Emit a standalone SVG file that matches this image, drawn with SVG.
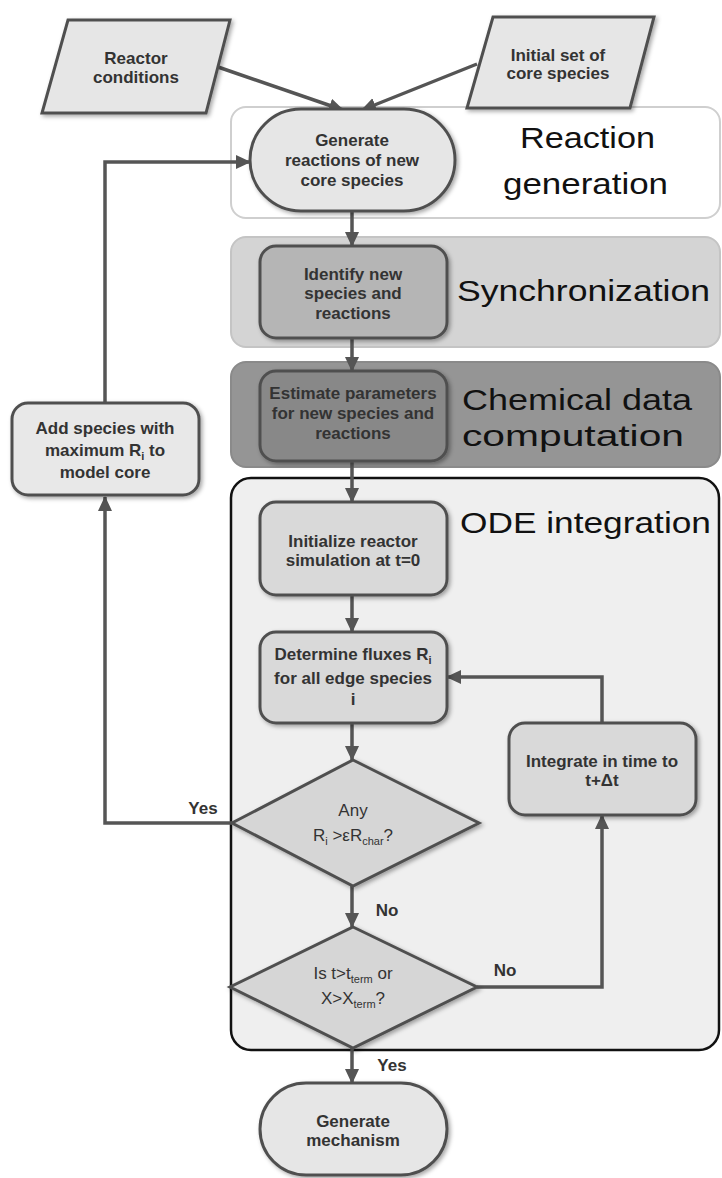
<svg xmlns="http://www.w3.org/2000/svg" width="722" height="1178" viewBox="0 0 722 1178">
<defs>
<style>
.lbl{font-family:"Liberation Sans",Arial,sans-serif;font-size:17px;font-weight:bold;fill:#333;text-anchor:middle}
.dlbl{font-family:"Liberation Sans",Arial,sans-serif;font-size:17px;fill:#333;text-anchor:middle}
.sub{font-size:11px}
.title{font-family:"Liberation Sans",Arial,sans-serif;font-size:30px;fill:#111}
.node{stroke:#505050;stroke-width:3;filter:url(#sh)}
.conn{fill:none;stroke:#555;stroke-width:3.5}
.elbl{font-family:"Liberation Sans",Arial,sans-serif;font-size:17px;font-weight:bold;fill:#333}
</style>
<filter id="sh" x="-10%" y="-10%" width="125%" height="125%">
<feDropShadow dx="2" dy="2" stdDeviation="2" flood-color="#000" flood-opacity="0.35"/>
</filter>
<marker id="ah" markerUnits="userSpaceOnUse" markerWidth="16" markerHeight="16" refX="14" refY="7" orient="auto">
<path d="M0,0 L15,7 L0,14 Z" fill="#555"/>
</marker>
</defs>

<g id="panels">
<rect id="panel-reaction" x="231" y="107" width="489" height="111" rx="15" fill="#fff" stroke="#cfcfcf" stroke-width="2"/>
<rect id="panel-sync" x="231" y="237" width="489" height="110" rx="15" fill="#d4d4d4" stroke="#c4c4c4" stroke-width="2"/>
<rect id="panel-chem" x="231" y="362" width="489" height="105" rx="15" fill="#959595" stroke="#8a8a8a" stroke-width="2"/>
<rect id="panel-ode" x="231" y="478" width="488" height="572" rx="20" fill="#efefef" stroke="#111" stroke-width="2.5"/>
<text class="title" x="520" y="148" textLength="135" lengthAdjust="spacingAndGlyphs">Reaction</text>
<text class="title" x="503" y="194" textLength="165" lengthAdjust="spacingAndGlyphs">generation</text>
<text class="title" x="457" y="301" textLength="253" lengthAdjust="spacingAndGlyphs">Synchronization</text>
<text class="title" x="462" y="410" textLength="230" lengthAdjust="spacingAndGlyphs">Chemical data</text>
<text class="title" x="462" y="446" textLength="222" lengthAdjust="spacingAndGlyphs">computation</text>
<text class="title" x="460" y="533" textLength="251" lengthAdjust="spacingAndGlyphs">ODE integration</text>
</g>

<g id="connectors">
<line class="conn" x1="218" y1="67" x2="343" y2="110" marker-end="url(#ah)"/>
<line class="conn" x1="477" y1="64" x2="362" y2="110" marker-end="url(#ah)"/>
<line class="conn" x1="352" y1="211" x2="352" y2="246" marker-end="url(#ah)"/>
<line class="conn" x1="352" y1="338" x2="352" y2="371" marker-end="url(#ah)"/>
<line class="conn" x1="352" y1="461" x2="352" y2="502" marker-end="url(#ah)"/>
<line class="conn" x1="352" y1="595" x2="352" y2="632" marker-end="url(#ah)"/>
<line class="conn" x1="352" y1="723" x2="352" y2="760" marker-end="url(#ah)"/>
<line class="conn" x1="352" y1="886" x2="352" y2="927" marker-end="url(#ah)"/>
<line class="conn" x1="352" y1="1048" x2="352" y2="1083" marker-end="url(#ah)"/>
<polyline class="conn" points="477,987 602,987 602,815" marker-end="url(#ah)"/>
<polyline class="conn" points="602,723 602,677 447,677" marker-end="url(#ah)"/>
<polyline class="conn" points="232,823 105,823 105,497" marker-end="url(#ah)"/>
<polyline class="conn" points="105,403 105,162 250,162" marker-end="url(#ah)"/>
<text class="elbl" x="203" y="814" text-anchor="middle">Yes</text>
<text class="elbl" x="387" y="916" text-anchor="middle">No</text>
<text class="elbl" x="505" y="976" text-anchor="middle">No</text>
<text class="elbl" x="392" y="1071" text-anchor="middle">Yes</text>
</g>

<g id="reactor-conditions">
<polygon class="node" points="68,20 230,20 206,113 42,113" fill="#e6e6e6"/>
<text class="lbl" x="136" y="64">Reactor</text>
<text class="lbl" x="136" y="83">conditions</text>
</g>

<g id="initial-set">
<polygon class="node" points="493,17 654,17 630,108 467,108" fill="#e6e6e6"/>
<text class="lbl" x="558" y="61">Initial set of</text>
<text class="lbl" x="558" y="79">core species</text>
</g>

<g id="generate-reactions">
<rect class="node" x="250" y="109" width="205" height="102" rx="51" fill="#e6e6e6"/>
<text class="lbl" x="352" y="146">Generate</text>
<text class="lbl" x="352" y="166">reactions of new</text>
<text class="lbl" x="352" y="186">core species</text>
</g>

<g id="identify">
<rect class="node" x="260" y="246" width="187" height="92" rx="16" fill="#b5b5b5"/>
<text class="lbl" x="353" y="280">Identify new</text>
<text class="lbl" x="353" y="299">species and</text>
<text class="lbl" x="353" y="319">reactions</text>
</g>

<g id="estimate">
<rect class="node" x="260" y="371" width="187" height="90" rx="16" fill="#888" stroke="#444"/>
<text class="lbl" x="353" y="399">Estimate parameters</text>
<text class="lbl" x="353" y="419">for new species and</text>
<text class="lbl" x="353" y="439">reactions</text>
</g>

<g id="add-species">
<rect class="node" x="12" y="403" width="187" height="92" rx="16" fill="#e8e8e8"/>
<text class="lbl" x="105" y="434">Add species with</text>
<text class="lbl" x="105" y="456">maximum R<tspan class="sub" dy="4">i</tspan><tspan dy="-4"> to</tspan></text>
<text class="lbl" x="105" y="478">model core</text>
</g>

<g id="initialize">
<rect class="node" x="260" y="502" width="187" height="93" rx="16" fill="#d9d9d9"/>
<text class="lbl" x="353" y="547">Initialize reactor</text>
<text class="lbl" x="353" y="566">simulation at t=0</text>
</g>

<g id="determine">
<rect class="node" x="260" y="632" width="187" height="91" rx="16" fill="#d9d9d9"/>
<text class="lbl" x="353" y="660">Determine fluxes R<tspan class="sub" dy="4">i</tspan></text>
<text class="lbl" x="353" y="684">for all edge species</text>
<text class="lbl" x="353" y="705">i</text>
</g>

<g id="integrate">
<rect class="node" x="509" y="723" width="187" height="92" rx="16" fill="#d9d9d9"/>
<text class="lbl" x="602" y="767">Integrate in time to</text>
<text class="lbl" x="602" y="786">t+Δt</text>
</g>

<g id="any-decision">
<polygon class="node" points="353,760 479,823 353,886 232,823" fill="#d6d6d6"/>
<text class="dlbl" x="353" y="816">Any</text>
<text class="dlbl" x="353" y="841">R<tspan class="sub" dy="4">i</tspan><tspan dy="-4"> &gt;εR</tspan><tspan class="sub" dy="4">char</tspan><tspan dy="-4">?</tspan></text>
</g>

<g id="term-decision">
<polygon class="node" points="353,927 477,987 353,1048 230,987" fill="#d6d6d6"/>
<text class="dlbl" x="353" y="979">Is t&gt;t<tspan class="sub" dy="4">term</tspan><tspan dy="-4"> or</tspan></text>
<text class="dlbl" x="353" y="1004">X&gt;X<tspan class="sub" dy="4">term</tspan><tspan dy="-4">?</tspan></text>
</g>

<g id="generate-mechanism">
<rect class="node" x="260" y="1083" width="187" height="92" rx="46" fill="#e6e6e6"/>
<text class="lbl" x="353" y="1127">Generate</text>
<text class="lbl" x="353" y="1146">mechanism</text>
</g>
</svg>
